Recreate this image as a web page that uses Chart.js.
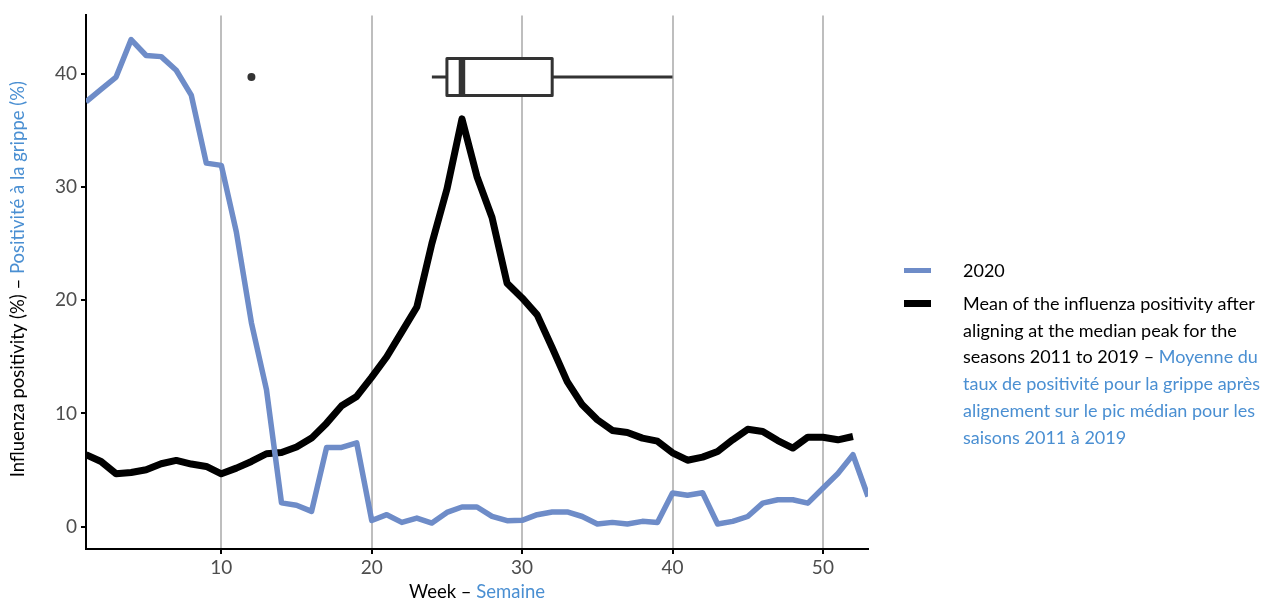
<!DOCTYPE html>
<html>
<head>
<meta charset="utf-8">
<title>Influenza positivity 2020</title>
<script src="https://cdn.jsdelivr.net/npm/chart.js@4.4.0/dist/chart.umd.min.js"></script>
<style>
  html, body { margin: 0; padding: 0; background: #fff; }
  #chart { display: block; }
</style>
</head>
<body>
<canvas id="chart" width="1272" height="602"></canvas>
<script>
// Data
const weeks2020 = [1, 2, 3, 4, 5, 6, 7, 8, 9, 10, 11, 12, 13, 14, 15, 16, 17, 18, 19, 20,
  21, 22, 23, 24, 25, 26, 27, 28, 29, 30, 31, 32, 33, 34, 35, 36, 37, 38, 39, 40,
  41, 42, 43, 44, 45, 46, 47, 48, 49, 50, 51, 52, 53];
const positivity2020 = [37.5, 38.6, 39.7, 43.0, 41.6, 41.5, 40.3, 38.1, 32.1, 31.9,
  26.0, 18.0, 12.1, 2.1, 1.9, 1.35, 7.0, 7.0, 7.4, 0.55,
  1.06, 0.38, 0.76, 0.32, 1.26, 1.74, 1.74, 0.91, 0.53, 0.56,
  1.06, 1.3, 1.3, 0.9, 0.24, 0.38, 0.24, 0.47, 0.38, 2.97,
  2.77, 3.0, 0.24, 0.47, 0.9, 2.08, 2.38, 2.38, 2.08, 3.4,
  4.7, 6.35, 2.67];

const weeksMean = [1, 2, 3, 4, 5, 6, 7, 8, 9, 10, 11, 12, 13, 14, 15, 16, 17, 18, 19, 20,
  21, 22, 23, 24, 25, 26, 27, 28, 29, 30, 31, 32, 33, 34, 35, 36, 37, 38, 39, 40,
  41, 42, 43, 44, 45, 46, 47, 48, 49, 50, 51, 52];
const positivityMean = [6.35, 5.76, 4.67, 4.79, 5.03, 5.56, 5.85, 5.53, 5.32, 4.67,
  5.17, 5.76, 6.44, 6.55, 7.03, 7.82, 9.14, 10.67, 11.5, 13.2,
  15.0, 17.2, 19.4, 25.0, 29.8, 36.0, 30.9, 27.3, 21.5, 20.2,
  18.7, 15.8, 12.8, 10.76, 9.44, 8.5, 8.32, 7.82, 7.55, 6.52,
  5.87, 6.14, 6.64, 7.67, 8.6, 8.4, 7.6, 6.94, 7.9, 7.9,
  7.67, 7.96];

// peak week of the seasons 2011-2019: whisker low, Q1, median, Q3, whisker high
const peakWeekStats = [24, 25, 26, 32, 40];
const peakWeekOutliers = [12];
const peakBoxLevel = 39.7;

const xTicks = [10, 20, 30, 40, 50];
const yTicks = [0, 10, 20, 30, 40];

// Styles
const FONT = 'Lato, "Liberation Sans", sans-serif';
const BLUE_LINE = '#6e8cc8';
const BLUE_TEXT = '#4a8fd2';
const BOX_COLOR = '#333333';
const BOX_HEIGHT = 37;

function drawSegments(ctx, segments, x, y, align) {
  let total = 0;
  segments.forEach(s => { total += ctx.measureText(s.text).width; });
  let cx = align === 'center' ? x - total / 2 : x;
  ctx.textAlign = 'left';
  segments.forEach(s => {
    ctx.fillStyle = s.color;
    ctx.fillText(s.text, cx, y);
    cx += ctx.measureText(s.text).width;
  });
}

const legendLines = [
  [{ text: 'Mean of the influenza positivity after', color: '#000' }],
  [{ text: 'aligning at the median peak for the', color: '#000' }],
  [{ text: 'seasons 2011 to 2019 – ', color: '#000' }, { text: 'Moyenne du', color: BLUE_TEXT }],
  [{ text: 'taux de positivité pour la grippe après', color: BLUE_TEXT }],
  [{ text: 'alignement sur le pic médian pour les', color: BLUE_TEXT }],
  [{ text: 'saisons 2011 à 2019', color: BLUE_TEXT }]
];

// Boxplot of the peak week + bilingual titles + legend
const extrasPlugin = {
  id: 'extras',
  afterDatasetsDraw(chart) {
    const ctx = chart.ctx;
    const xs = chart.scales.x;
    const ys = chart.scales.y;
    const yc = ys.getPixelForValue(peakBoxLevel);
    const [lo, q1, med, q3, hi] = peakWeekStats.map(v => xs.getPixelForValue(v));
    ctx.save();
    ctx.strokeStyle = BOX_COLOR;
    ctx.lineWidth = 3;
    ctx.beginPath();
    ctx.moveTo(lo, yc); ctx.lineTo(q1, yc);
    ctx.moveTo(q3, yc); ctx.lineTo(hi, yc);
    ctx.stroke();
    ctx.fillStyle = '#fff';
    ctx.fillRect(q1, yc - BOX_HEIGHT / 2, q3 - q1, BOX_HEIGHT);
    ctx.lineJoin = 'round';
    ctx.strokeRect(q1, yc - BOX_HEIGHT / 2, q3 - q1, BOX_HEIGHT);
    ctx.lineWidth = 6.5;
    ctx.beginPath();
    ctx.moveTo(med, yc - BOX_HEIGHT / 2);
    ctx.lineTo(med, yc + BOX_HEIGHT / 2);
    ctx.stroke();
    ctx.fillStyle = BOX_COLOR;
    peakWeekOutliers.forEach(v => {
      ctx.beginPath();
      ctx.arc(xs.getPixelForValue(v), yc, 4, 0, Math.PI * 2);
      ctx.fill();
    });
    ctx.restore();
  },
  afterDraw(chart) {
    const ctx = chart.ctx;
    const area = chart.chartArea;
    ctx.save();
    ctx.font = '18.5px ' + FONT;
    ctx.textBaseline = 'middle';

    // x title
    drawSegments(ctx, [{ text: 'Week – ', color: '#000' }, { text: 'Semaine', color: BLUE_TEXT }],
      (area.left + area.right) / 2, 592, 'center');

    // y title
    ctx.save();
    ctx.translate(18, (area.top + area.bottom) / 2 - 3);
    ctx.rotate(-Math.PI / 2);
    drawSegments(ctx, [{ text: 'Influenza positivity (%) – ', color: '#000' },
      { text: 'Positivité à la grippe (%)', color: BLUE_TEXT }], 0, 0, 'center');
    ctx.restore();

    // legend
    ctx.font = '18px ' + FONT;
    const keyX = 904, keyW = 27, textX = 963;
    ctx.fillStyle = BLUE_LINE;
    ctx.fillRect(keyX, 268, keyW, 5);
    ctx.fillStyle = '#000';
    ctx.fillRect(keyX, 300, keyW, 7);
    drawSegments(ctx, [{ text: '2020', color: '#000' }], textX, 271, 'left');
    legendLines.forEach((line, i) => {
      drawSegments(ctx, line, textX, 304 + i * 26.8, 'left');
    });
    ctx.restore();
  }
};

new Chart(document.getElementById('chart'), {
  type: 'line',
  data: {
    datasets: [
      {
        label: '2020',
        data: weeks2020.map((w, i) => ({ x: w, y: positivity2020[i] })),
        borderColor: BLUE_LINE,
        borderWidth: 5.5,
        pointRadius: 0,
        tension: 0,
        borderJoinStyle: 'round'
      },
      {
        label: 'Mean 2011-2019',
        data: weeksMean.map((w, i) => ({ x: w, y: positivityMean[i] })),
        borderColor: '#000',
        borderWidth: 7,
        pointRadius: 0,
        tension: 0,
        borderJoinStyle: 'round'
      }
    ]
  },
  options: {
    responsive: false,
    animation: false,
    devicePixelRatio: 1,
    layout: { padding: { top: 15, right: 404, bottom: 0, left: 0 } },
    plugins: {
      legend: { display: false },
      tooltip: { enabled: false }
    },
    scales: {
      x: {
        type: 'linear',
        min: 1,
        max: 53,
        afterBuildTicks: scale => { scale.ticks = xTicks.map(v => ({ value: v })); },
        afterFit: scale => { scale.height = 53; },
        grid: { color: '#bebebe', lineWidth: 2, tickColor: '#000', tickLength: 5 },
        border: { color: '#000', width: 2 },
        ticks: { color: '#4d4d4d', font: { family: FONT, size: 19 }, padding: 2, maxRotation: 0 }
      },
      y: {
        type: 'linear',
        min: -1.97,
        max: 45.14,
        afterBuildTicks: scale => { scale.ticks = yTicks.map(v => ({ value: v })); },
        afterFit: scale => { scale.width = 86; },
        grid: { drawOnChartArea: false, lineWidth: 2, tickColor: '#000', tickLength: 5 },
        border: { color: '#000', width: 2 },
        ticks: { color: '#4d4d4d', font: { family: FONT, size: 19 }, padding: 4 }
      }
    }
  },
  plugins: [extrasPlugin]
});
</script>
</body>
</html>
